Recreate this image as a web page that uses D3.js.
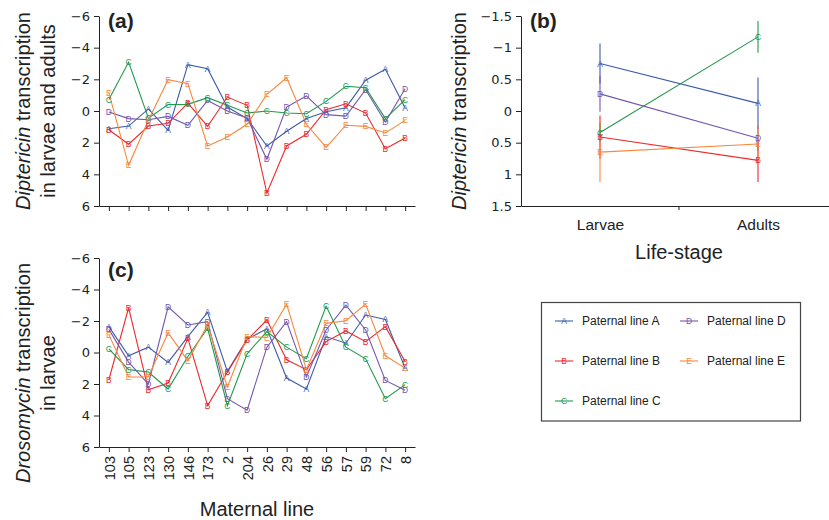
<!DOCTYPE html>
<html lang="en">
<head>
    <meta charset="UTF-8">
    <title>Diptericin and Drosomycin transcription</title>
    <script src="https://d3js.org/d3.v7.min.js"></script>
    <style>
        body {
            margin: 0;
            padding: 0;
            background-color: white;
            font-family: 'Liberation Sans', Arial, Helvetica, sans-serif;
        }
        svg text {
            fill: #222;
        }
        .axis path, .axis line {
            stroke: #222;
            stroke-width: 1;
        }
        .ytick text {
            font-family: 'DejaVu Sans', sans-serif;
            font-size: 13px;
        }
    </style>
</head>
<body>
    <svg id="chart" width="829" height="520"></svg>

    <script>
        const maternalLines = ["103", "105", "123", "130", "146", "173", "2", "204", "26", "29", "48", "56", "57", "59", "72", "8"];
        const paternalLines = ["A", "B", "C", "D", "E"];
        const lineColors = ["#3b5bab", "#ec2a2e", "#20994b", "#7458ad", "#f7883f"];

        // (a) Diptericin, larvae and adults
        const dptA = [1.12, 0.95, -0.13, 1.22, -2.93, -2.67, -0.25, 0.48, 2.21, 1.28, 0.48, 0.05, -0.21, -1.94, -2.63, -0.19];
        const dptB = [1.18, 2.1, 0.95, 0.78, -0.5, 0.97, -0.88, -0.36, 5.18, 2.21, 1.47, -0.08, -0.46, 0.13, 2.38, 1.7];
        const dptC = [-0.72, -3.09, 0.45, -0.4, -0.42, -0.84, -0.36, 0.13, 0.0, 0.13, 0.17, -0.61, -1.56, -1.47, 0.48, -0.72];
        const dptD = [0.06, 0.48, 0.55, 0.34, 0.9, -0.67, 0.0, 0.44, 3.05, -0.25, -0.95, 0.23, 0.32, -1.35, 0.69, -1.41];
        const dptE = [-1.14, 3.43, 0.59, -1.98, -1.73, 2.21, 1.64, 0.84, -1.05, -2.1, 0.84, 2.3, 0.9, 0.97, 1.39, 0.59];

        // (c) Drosomycin, larvae
        const droA = [-1.64, 0.21, -0.34, 0.63, -1.01, -2.55, 1.2, -0.85, -1.5, 1.62, 2.32, -1.01, -0.59, -2.38, -2.1, 0.99];
        const droB = [1.73, -2.84, 2.36, 1.94, -0.9, 3.37, 1.25, -0.8, -2.06, 0.46, 1.09, -0.69, -1.37, -0.69, -1.64, 0.57];
        const droC = [-0.23, 1.09, 1.24, 2.32, 0.25, -1.54, 3.37, 0.08, -1.33, -0.34, 0.4, -2.95, -0.34, 0.4, 2.93, 2.04];
        const droD = [-1.47, 0.61, 2.0, -2.9, -1.75, -1.96, 2.93, 3.66, -0.34, -1.96, 1.56, -1.43, -3.01, -1.43, 1.77, 2.4];
        const droE = [-1.12, 1.56, 1.56, -1.26, 0.53, -1.75, 2.19, -1.01, -0.95, -3.07, 1.09, -1.85, -2.02, -3.07, 0.21, 0.99];

        // (b) Diptericin by life-stage, means and error bars
        const stages = ["Larvae", "Adults"];
        const lsA = [-0.75, -0.12], lsAErr = [0.315, 0.41];
        const lsB = [0.41, 0.78], lsBErr = [0.34, 0.34];
        const lsC = [0.34, -1.17], lsCErr = [0.15, 0.25];
        const lsD = [-0.27, 0.43], lsDErr = [0.28, 0.2];
        const lsE = [0.65, 0.52], lsEErr = [0.47, 0.3];

        const yTicks = [-6, -4, -2, 0, 2, 4, 6];
        const bTicks = [-1.5, -1, -0.5, 0, 0.5, 1, 1.5];
        const bTickLabels = ["\u22121.5", "\u22121", "0.5", "0", "0.5", "1", "1.5"];

        const svg = d3.select("#chart");

        const xA = d3.scalePoint().domain(maternalLines).range([99, 415]).padding(0.5);
        const yA = d3.scaleLinear().domain([-6, 6]).range([16, 206]);
        const yC = d3.scaleLinear().domain([-6, 6]).range([258, 447]);
        const xB = d3.scalePoint().domain(stages).range([521, 837]).padding(0.5);
        const yB = d3.scaleLinear().domain([-1.5, 1.5]).range([16, 206]);

        function drawSeries(g, x, y, cats, series) {
            series.forEach(function(vals, k) {
                const line = d3.line()
                    .x((d, i) => x(cats[i]))
                    .y(d => y(d));
                g.append("path")
                    .datum(vals)
                    .attr("fill", "none")
                    .attr("stroke", lineColors[k])
                    .attr("stroke-width", 1.1)
                    .attr("d", line);
            });
            series.forEach(function(vals, k) {
                g.selectAll(".pt" + k)
                    .data(vals)
                    .enter().append("text")
                    .attr("class", "pt" + k)
                    .attr("x", (d, i) => x(cats[i]))
                    .attr("y", d => y(d))
                    .attr("dy", "0.36em")
                    .attr("text-anchor", "middle")
                    .style("font-size", "8.5px")
                    .style("fill", lineColors[k])
                    .text(paternalLines[k]);
            });
        }

        // panel (a)
        const gA = svg.append("g");
        gA.append("g").attr("class", "axis ytick")
            .attr("transform", "translate(99,0)")
            .call(d3.axisLeft(yA).tickValues(yTicks).tickSize(5).tickPadding(4).tickSizeOuter(0))
            .attr("font-size", null).attr("font-family", null);
        gA.append("g").attr("class", "axis")
            .attr("transform", "translate(0,206)")
            .call(d3.axisBottom(xA).tickSize(5).tickSizeOuter(0).tickFormat(""));
        drawSeries(gA, xA, yA, maternalLines, [dptA, dptB, dptC, dptD, dptE]);

        // panel (c)
        const gC = svg.append("g");
        gC.append("g").attr("class", "axis ytick")
            .attr("transform", "translate(99,0)")
            .call(d3.axisLeft(yC).tickValues(yTicks).tickSize(5).tickPadding(4).tickSizeOuter(0))
            .attr("font-size", null).attr("font-family", null);
        gC.append("g").attr("class", "axis")
            .attr("transform", "translate(0,447)")
            .call(d3.axisBottom(xA).tickSize(5).tickSizeOuter(0))
            .selectAll("text")
            .style("font-size", "14.5px")
            .style("font-family", "inherit")
            .style("text-anchor", "end")
            .attr("transform", "rotate(-90)")
            .attr("x", -9)
            .attr("y", 0)
            .attr("dy", "0.36em");
        drawSeries(gC, xA, yC, maternalLines, [droA, droB, droC, droD, droE]);

        // panel (b)
        const gB = svg.append("g");
        gB.append("g").attr("class", "axis ytick")
            .attr("transform", "translate(521,0)")
            .call(d3.axisLeft(yB).tickValues(bTicks).tickSize(5).tickPadding(4).tickSizeOuter(0)
                .tickFormat((d, i) => bTickLabels[i]))
            .attr("font-size", null).attr("font-family", null);
        const xAxisB = gB.append("g").attr("class", "axis")
            .attr("transform", "translate(0,206)")
            .call(d3.axisBottom(xB).tickSize(0).tickSizeOuter(0).tickPadding(13));
        xAxisB.selectAll("text").style("font-size", "15.5px").style("font-family", "inherit");
        const midB = (xB(stages[0]) + xB(stages[1])) / 2;
        xAxisB.append("line")
            .attr("x1", midB).attr("x2", midB)
            .attr("y1", 0).attr("y2", 4)
            .attr("stroke", "#222");

        const lsMeans = [lsA, lsB, lsC, lsD, lsE];
        const lsErrs = [lsAErr, lsBErr, lsCErr, lsDErr, lsEErr];
        lsMeans.forEach(function(vals, k) {
            gB.selectAll(".err" + k)
                .data(vals)
                .enter().append("line")
                .attr("class", "err" + k)
                .attr("x1", (d, i) => xB(stages[i]))
                .attr("x2", (d, i) => xB(stages[i]))
                .attr("y1", (d, i) => yB(d - lsErrs[k][i]))
                .attr("y2", (d, i) => yB(d + lsErrs[k][i]))
                .attr("stroke", lineColors[k])
                .attr("stroke-width", 1.1);
        });
        drawSeries(gB, xB, yB, stages, lsMeans);

        // panel letters
        const panelLabels = [["(a)", 108, 28], ["(b)", 530, 28], ["(c)", 108, 277]];
        svg.selectAll(".panel")
            .data(panelLabels)
            .enter().append("text")
            .attr("class", "panel")
            .attr("x", d => d[1])
            .attr("y", d => d[2])
            .style("font-size", "21px")
            .style("font-weight", "bold")
            .text(d => d[0]);

        // axis titles
        const titleSize = "20px";
        function yTitle(parts, cx, cy) {
            const t = svg.append("text")
                .attr("transform", "translate(" + cx + "," + cy + ") rotate(-90)")
                .attr("text-anchor", "middle")
                .style("font-size", titleSize);
            parts.forEach(function(p) {
                t.append("tspan").style("font-style", p[1] ? "italic" : "normal").text(p[0]);
            });
        }
        yTitle([["Diptericin", true], [" transcription", false]], 29.5, 111);
        yTitle([["in larvae and adults", false]], 55, 111);
        yTitle([["Drosomycin", true], [" transcription", false]], 29.5, 373);
        yTitle([["in larvae", false]], 55, 373);
        yTitle([["Diptericin", true], [" transcription", false]], 466, 111);

        svg.append("text")
            .attr("x", (xA.range()[0] + xA.range()[1]) / 2)
            .attr("y", 516)
            .attr("text-anchor", "middle")
            .style("font-size", titleSize)
            .text("Maternal line");
        svg.append("text")
            .attr("x", midB)
            .attr("y", 259)
            .attr("text-anchor", "middle")
            .style("font-size", titleSize)
            .text("Life-stage");

        // legend
        const legend = svg.append("g");
        legend.append("rect")
            .attr("x", 541.5).attr("y", 302.5)
            .attr("width", 259).attr("height", 118.5)
            .attr("fill", "white")
            .attr("stroke", "#444")
            .attr("stroke-width", 1.2);
        const legendItems = legend.selectAll(".legend-item")
            .data(paternalLines)
            .enter().append("g")
            .attr("class", "legend-item")
            .attr("transform", (d, i) => i < 3
                ? "translate(555," + (321 + i * 40) + ")"
                : "translate(680," + (321 + (i - 3) * 40) + ")");
        legendItems.append("line")
            .attr("x1", 0).attr("x2", 18)
            .attr("stroke", (d, i) => lineColors[i])
            .attr("stroke-width", 1.1);
        legendItems.append("text")
            .attr("x", 9)
            .attr("dy", "0.36em")
            .attr("text-anchor", "middle")
            .style("font-size", "8.5px")
            .style("fill", (d, i) => lineColors[i])
            .text(d => d);
        legendItems.append("text")
            .attr("x", 27)
            .attr("dy", "0.36em")
            .style("font-size", "12px")
            .text(d => "Paternal line " + d);
    </script>
</body>
</html>
